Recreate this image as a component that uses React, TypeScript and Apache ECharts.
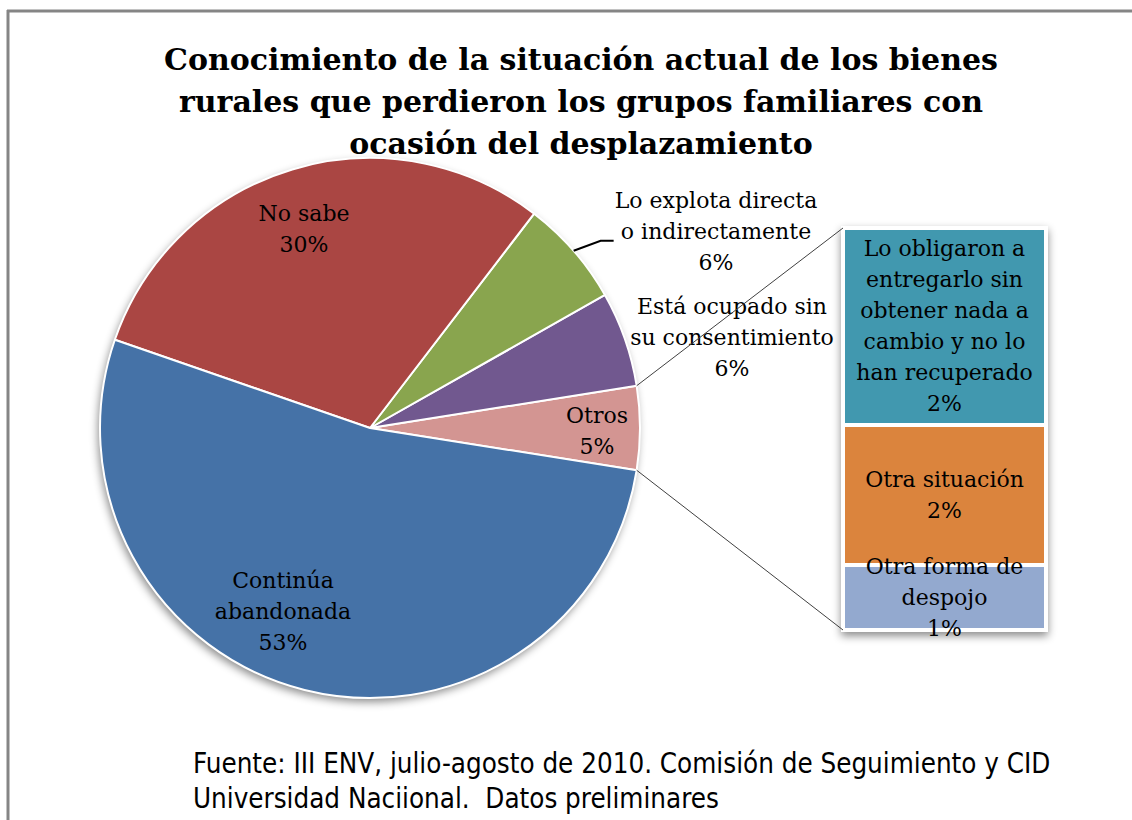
import React, { useEffect, useRef } from "react";
import * as echarts from "echarts";

const titleText =
  "Conocimiento de la situación actual de los bienes\nrurales que perdieron los grupos familiares con\nocasión del desplazamiento";

// Pie (order: counter-clockwise starting from "Otros")
const pieNames = [
  "Otros",
  "Está ocupado sin\nsu consentimiento",
  "Lo explota directa\no indirectamente",
  "No sabe",
  "Continúa\nabandonada",
];
const pieValues = [5.0, 5.7, 6.4, 30.1, 52.8];
const pieColors = ["#D39592", "#71588F", "#89A54E", "#AA4643", "#4572A7"];

// Breakdown bar of "Otros" (bottom to top)
const barNames = [
  "Otra forma de\ndespojo",
  "Otra situación",
  "Lo obligaron a\nentregarlo sin\nobtener nada a\ncambio y no lo\nhan recuperado",
];
const barValues = [0.81, 1.74, 2.45];
const barColors = ["#93A9CF", "#DB843D", "#4198AF"];

const sourceText =
  "Fuente: III ENV, julio-agosto de 2010. Comisión de Seguimiento y CID\nUniversidad Naciional.  Datos preliminares";

// Layout
const CX = 370;
const CY = 428;
const R = 270;
const BAR = { left: 843, top: 228, width: 203, height: 402 };
const pieLabelPos: [number, number][] = [
  [597, 431],
  [732, 337],
  [716, 231],
  [304, 229],
  [283, 611],
];

const LABEL_FONT = "'DejaVu Serif', serif";

export default function App() {
  const ref = useRef<HTMLDivElement>(null);

  useEffect(() => {
    if (!ref.current) return;
    document.documentElement.style.overflow = "hidden";
    document.body.style.overflow = "hidden";
    const chart = echarts.init(ref.current, null, { renderer: "svg" });

    const total = pieValues.reduce((a, b) => a + b, 0);
    const otrosAngle = (pieValues[0] / total) * 360;
    const startAngle = -otrosAngle / 2;
    const rad = (d: number) => (d * Math.PI) / 180;
    const onArc = (deg: number): [number, number] => [
      CX + R * Math.cos(rad(deg)),
      CY - R * Math.sin(rad(deg)),
    ];

    // mid-angle of "Lo explota" slice
    const cumBefore = pieValues[0] + pieValues[1];
    const explMid =
      startAngle + ((cumBefore + pieValues[2] / 2) / total) * 360;
    const p0 = onArc(explMid);
    const p1: [number, number] = [p0[0] + 27, p0[1] - 10];
    const p2: [number, number] = [p1[0] + 13, p1[1]];

    const topEdge = onArc(startAngle + otrosAngle);
    const botEdge = onArc(startAngle);
    const barSum = barValues.reduce((a, b) => a + b, 0);

    chart.setOption({
      animation: false,
      backgroundColor: "#ffffff",
      title: {
        text: titleText,
        left: 576,
        top: 33,
        textAlign: "center",
        textStyle: {
          fontFamily: "'DejaVu Serif', serif",
          fontWeight: "bold",
          fontSize: 30,
          lineHeight: 42,
          color: "#000",
        },
      },
      grid: {
        left: BAR.left,
        top: BAR.top,
        width: BAR.width,
        height: BAR.height,
      },
      xAxis: { type: "category", data: [""], show: false },
      yAxis: { type: "value", min: 0, max: barSum, show: false },
      graphic: [
        {
          type: "line",
          z: 0,
          shape: { x1: 8, y1: 10, x2: 8, y2: 820 },
          style: { stroke: "#858585", lineWidth: 3 },
        },
        {
          type: "line",
          z: 0,
          shape: { x1: 7, y1: 11, x2: 1132, y2: 11 },
          style: { stroke: "#858585", lineWidth: 3 },
        },
        {
          type: "circle",
          z: 0,
          shape: { cx: CX, cy: CY, r: R },
          style: {
            fill: "#ffffff",
            shadowBlur: 8,
            shadowColor: "rgba(0,0,0,0.45)",
            shadowOffsetX: -2,
            shadowOffsetY: 4,
          },
        },
        {
          type: "rect",
          z: 0,
          shape: {
            x: BAR.left - 2,
            y: BAR.top - 2,
            width: BAR.width + 4,
            height: BAR.height + 4,
          },
          style: {
            fill: "#ffffff",
            shadowBlur: 8,
            shadowColor: "rgba(0,0,0,0.45)",
            shadowOffsetX: 0,
            shadowOffsetY: 4,
          },
        },
        {
          type: "line",
          z: 5,
          shape: { x1: topEdge[0], y1: topEdge[1], x2: BAR.left, y2: BAR.top },
          style: { stroke: "#404040", lineWidth: 1 },
        },
        {
          type: "line",
          z: 5,
          shape: {
            x1: botEdge[0],
            y1: botEdge[1],
            x2: BAR.left,
            y2: BAR.top + BAR.height,
          },
          style: { stroke: "#404040", lineWidth: 1 },
        },
        {
          type: "polyline",
          z: 5,
          shape: { points: [p0, p1, p2] },
          style: { stroke: "#000", lineWidth: 2, fill: "none" },
        },
        {
          type: "text",
          z: 5,
          x: 193,
          y: 745,
          style: {
            text: sourceText,
            fontFamily: "'Liberation Sans Narrow', 'DejaVu Sans Condensed', sans-serif",
            fontSize: 27.5,
            lineHeight: 35,
            fill: "#000",
          },
        },
      ],
      series: [
        {
          type: "pie",
          center: [CX, CY],
          radius: R,
          startAngle: startAngle,
          clockwise: false,
          avoidLabelOverlap: false,
          itemStyle: { borderColor: "#ffffff", borderWidth: 2 },
          label: {
            show: true,
            position: "inside",
            fontFamily: LABEL_FONT,
            fontSize: 22,
            lineHeight: 31,
            color: "#000",
            align: "center",
            formatter: (p: any) => `${p.name}\n${Math.round(p.value)}%`,
          },
          labelLine: { show: false },
          labelLayout: (p: any) => ({
            x: pieLabelPos[p.dataIndex][0],
            y: pieLabelPos[p.dataIndex][1],
            align: "center",
            verticalAlign: "middle",
          }),
          emphasis: { disabled: true },
          data: pieNames.map((n, i) => ({
            name: n,
            value: pieValues[i],
            itemStyle: { color: pieColors[i] },
          })),
        },
        ...barNames.map((n, i) => ({
          type: "bar",
          name: n,
          stack: "otros",
          barWidth: "100%",
          itemStyle: { color: barColors[i], borderColor: "#ffffff", borderWidth: 2 },
          label: {
            show: true,
            position: "inside",
            fontFamily: LABEL_FONT,
            fontSize: 22,
            lineHeight: 31,
            color: "#000",
            formatter: (p: any) => `${p.seriesName}\n${Math.round(p.value)}%`,
          },
          emphasis: { disabled: true },
          data: [barValues[i]],
        })),
      ],
    });

    return () => chart.dispose();
  }, []);

  return (
    <div
      ref={ref}
      style={{ position: "fixed", left: 0, top: 0, width: 1132, height: 820 }}
    />
  );
}
